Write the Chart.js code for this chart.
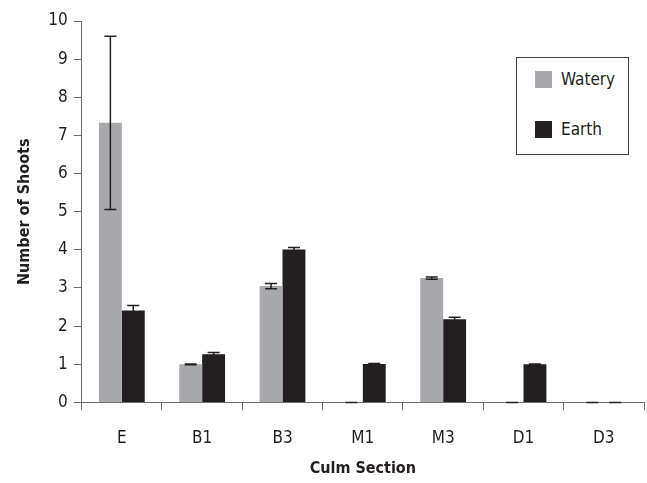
<!DOCTYPE html>
<html>
<head>
<meta charset="utf-8">
<script src="https://cdn.jsdelivr.net/npm/chart.js@4/dist/chart.umd.min.js"></script>
<style>
  body { margin: 0; background: #fff; }
  #wrap { position: relative; width: 647px; height: 483px; }
  #legend {
    position: absolute; left: 516px; top: 57px; width: 111px; height: 96px;
    border: 1px solid #444; background: #fff;
    font-family: "Liberation Sans Narrow", "DejaVu Sans Condensed", sans-serif;
    font-size: 17px; color: #231F20;
  }
  .item { position: absolute; left: 18px; height: 18px; }
  .item span { position: absolute; left: 0; top: 0; width: 17px; height: 17px; }
  .item b { position: absolute; left: 26px; top: -2px; font-weight: normal; white-space: nowrap; }
</style>
</head>
<body>
<div id="wrap">
  <canvas id="chartOne"></canvas>
  <div id="legend"></div>
</div>
<script>
var sections = ["E", "B1", "B3", "M1", "M3", "D1", "D3"]
var watery = [7.33, 1.0, 3.05, 0, 3.26, 0, 0]
var wateryErr = [2.27, 0.01, 0.07, 0, 0.03, 0, 0]
var earth = [2.41, 1.26, 4.01, 1.01, 2.18, 1.0, 0]
var earthErr = [0.13, 0.05, 0.05, 0.01, 0.05, 0.01, 0]
var yTicks = [0, 1, 2, 3, 4, 5, 6, 7, 8, 9, 10]

var fontName = "'Liberation Sans Narrow', 'DejaVu Sans Condensed', sans-serif"
var axisGray = "#6D6E71"

var errorBars = {
    id: "errorBars",
    afterDatasetsDraw: function (chart) {
        var ctx = chart.ctx
        var yScale = chart.scales.y
        ctx.save()
        ctx.strokeStyle = "#231F20"
        ctx.lineWidth = 1.5
        chart.data.datasets.forEach(function (ds, i) {
            var meta = chart.getDatasetMeta(i)
            meta.data.forEach(function (bar, j) {
                var v = ds.data[j]
                var e = ds.errors[j]
                var top = yScale.getPixelForValue(v + e)
                var bottom = yScale.getPixelForValue(v - e)
                var x = bar.x
                ctx.beginPath()
                ctx.moveTo(x, top)
                ctx.lineTo(x, bottom)
                ctx.moveTo(x - 6, top)
                ctx.lineTo(x + 6, top)
                ctx.moveTo(x - 6, bottom)
                ctx.lineTo(x + 6, bottom)
                ctx.stroke()
            })
        })
        ctx.restore()
    }
}

var getChartOne = document.getElementById("chartOne")

var chartOne = new Chart(getChartOne, {
    type: "bar",
    data: {
        labels: sections,
        datasets: [{
            label: "Watery",
            data: watery,
            errors: wateryErr,
            backgroundColor: "#A7A9AC"
        }, {
            label: "Earth",
            data: earth,
            errors: earthErr,
            backgroundColor: "#231F20"
        }]
    },
    options: {
        responsive: true,
        maintainAspectRatio: false,
        animation: false,
        categoryPercentage: 0.57,
        barPercentage: 1.0,
        layout: { padding: { top: 21, right: 3, bottom: 5, left: 15 } },
        plugins: {
            legend: { display: false },
            tooltip: { enabled: false }
        },
        scales: {
            x: {
                grid: { drawOnChartArea: false, tickLength: 8, color: axisGray, offset: true },
                border: { color: axisGray, width: 1 },
                ticks: { font: { family: fontName, size: 17 }, color: "#231F20", padding: 18 },
                title: {
                    display: true, text: "Culm Section", color: "#231F20",
                    font: { family: fontName, size: 16, weight: "bold" },
                    padding: { top: -8, bottom: 0 }
                }
            },
            y: {
                min: 0,
                max: 10,
                afterBuildTicks: function (axis) {
                    axis.ticks = yTicks.map(function (v) { return { value: v } })
                },
                grid: { drawOnChartArea: false, tickLength: 8, color: axisGray },
                border: { color: axisGray, width: 1 },
                ticks: { font: { family: fontName, size: 17 }, color: "#231F20", padding: 6 },
                title: {
                    display: true, text: "Number of Shoots", color: "#231F20",
                    font: { family: fontName, size: 16, weight: "bold" },
                    padding: { top: 0, bottom: 8 }
                }
            }
        }
    },
    plugins: [errorBars]
})

var legend = document.getElementById("legend")
chartOne.data.datasets.forEach(function (ds, i) {
    var item = document.createElement("div")
    item.className = "item"
    item.style.top = (13 + i * 50) + "px"
    item.innerHTML = "<span style='background:" + ds.backgroundColor + "'></span><b>" + ds.label + "</b>"
    legend.appendChild(item)
})
</script>
</body>
</html>
